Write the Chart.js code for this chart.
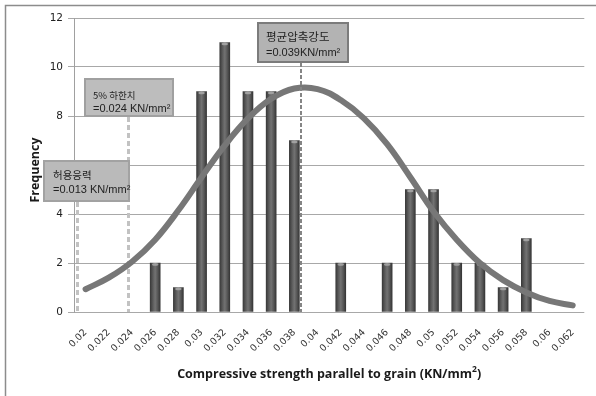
<!DOCTYPE html>
<html>
<head>
<meta charset="utf-8">
<script src="https://cdn.jsdelivr.net/npm/chart.js@4/dist/chart.umd.min.js"></script>
<style>
  html, body { margin: 0; padding: 0; background: #ffffff; }
  #wrap { width: 596px; height: 396px; }
</style>
</head>
<body>
<div id="wrap"><canvas id="chart" width="596" height="396"></canvas></div>
<script>
// Strength classes (KN/mm²) on the category axis
const categories = ['0.02', '0.022', '0.024', '0.026', '0.028', '0.03', '0.032', '0.034',
  '0.036', '0.038', '0.04', '0.042', '0.044', '0.046', '0.048', '0.05', '0.052',
  '0.054', '0.056', '0.058', '0.06', '0.062'];

// Number of specimens in each class
const frequency = [0, 0, 0, 2, 1, 9, 11, 9, 9, 7, 0, 2, 0, 2, 5, 5, 2, 2, 1, 3, 0, 0];

// Fitted distribution curve, sampled at each class
const fittedCurve = [0.93, 1.4, 2.05, 2.95, 4.15, 5.5, 6.8, 7.9, 8.7, 9.12, 9.1, 8.65,
  7.9, 6.85, 5.5, 4.1, 2.95, 2.0, 1.3, 0.8, 0.45, 0.27];

// Frequency axis ticks
const yTicks = [0, 2, 4, 6, 8, 10, 12];

// Reference values shown as callouts
const callouts = [
  { title: '평균압축강도', value: '=0.039KN/mm²' },
  { title: '5% 하한치', value: '=0.024 KN/mm²' },
  { title: '허용응력', value: '=0.013 KN/mm²' }
];

const AXIS_TITLE_X = 'Compressive strength parallel to grain (KN/mm';
const AXIS_TITLE_Y = 'Frequency';
const TITLE_FONT = '"Open Sans", sans-serif';

// Cylinder-like shading for each column
function barFill(ctx) {
  const chart = ctx.chart;
  const xs = chart.scales && chart.scales.x;
  if (ctx.type !== 'data' || !xs || !isFinite(xs.getPixelForValue(ctx.dataIndex))) return '#5a5a5a';
  const cx = xs.getPixelForValue(ctx.dataIndex);
  const g = chart.ctx.createLinearGradient(cx - 5, 0, cx + 5, 0);
  g.addColorStop(0, '#3a3a3a');
  g.addColorStop(0.3, '#5e5e5e');
  g.addColorStop(0.5, '#727272');
  g.addColorStop(0.75, '#575757');
  g.addColorStop(1, '#363636');
  return g;
}

// Frame, guides, callout boxes and axis titles
const decorations = {
  id: 'decorations',
  beforeDraw(chart) {
    const c = chart.ctx;
    c.save();
    c.strokeStyle = '#8c8c8c';
    c.lineWidth = 1.5;
    c.strokeRect(5.5, 5.5, 700, 500);
    c.restore();
  },
  beforeDatasetsDraw(chart) {
    const c = chart.ctx;
    const xs = chart.scales.x, ys = chart.scales.y;
    const base = ys.getPixelForValue(0);
    const line = (x, y0, color, w, dash) => {
      c.save();
      c.strokeStyle = color;
      c.lineWidth = w;
      c.setLineDash(dash);
      c.beginPath();
      c.moveTo(x, y0);
      c.lineTo(x, base);
      c.stroke();
      c.restore();
    };
    line(Math.round(xs.getPixelForValue(-0.35)) + 0.5, 202, '#c2c2c2', 3, [5, 3]);
    line(Math.round(xs.getPixelForValue(1.83)) + 0.5, 117, '#c2c2c2', 3, [5, 3]);
  },
  afterDatasetDraw(chart, args) {
    if (args.index !== 1) return;
    // light cap at the top of each column
    const c = chart.ctx;
    const meta = chart.getDatasetMeta(1);
    c.save();
    meta.data.forEach((bar, i) => {
      if (!frequency[i]) return;
      c.fillStyle = 'rgba(170,170,170,0.85)';
      c.beginPath();
      c.ellipse(bar.x, bar.y + 1.5, 3.2, 1.3, 0, 0, Math.PI * 2);
      c.fill();
    });
    c.restore();
  },
  afterDatasetsDraw(chart) {
    const c = chart.ctx;
    const xs = chart.scales.x, ys = chart.scales.y;
    const base = ys.getPixelForValue(0);
    // mean value guide
    c.save();
    c.strokeStyle = '#858585';
    c.lineWidth = 2;
    c.setLineDash([4, 2]);
    const mx = Math.round(xs.getPixelForValue(9.3));
    c.beginPath();
    c.moveTo(mx, 63);
    c.lineTo(mx, base);
    c.stroke();
    c.restore();

    const boxes = [
      { x: 257, y: 22, w: 92, h: 41, fill: '#b3b3b3', edge: '#7c7c7c', tf: 11.5, t1: 37, t2: 53, tx: 266 },
      { x: 84, y: 78, w: 90, h: 39, fill: '#bdbdbd', edge: '#a0a0a0', tf: 9.5, t1: 95, t2: 109, tx: 93 },
      { x: 43, y: 160, w: 87, h: 42, fill: '#bababa', edge: '#a2a2a2', tf: 10.5, t1: 175, t2: 190, tx: 53 }
    ];
    boxes.forEach((b, i) => {
      c.save();
      c.fillStyle = b.fill;
      c.fillRect(b.x, b.y, b.w, b.h);
      c.strokeStyle = b.edge;
      c.lineWidth = 2;
      c.strokeRect(b.x + 1, b.y + 1, b.w - 2, b.h - 2);
      c.fillStyle = '#222222';
      c.textBaseline = 'middle';
      c.textAlign = 'left';
      c.font = b.tf + 'px "Noto Sans CJK KR", sans-serif';
      c.fillText(callouts[i].title, b.tx, b.t1);
      c.font = '11px "Liberation Sans", Arial, sans-serif';
      c.fillText(callouts[i].value, b.tx, b.t2);
      c.restore();
    });
  },
  afterDraw(chart) {
    const c = chart.ctx;
    const area = chart.chartArea;
    c.save();
    c.fillStyle = '#1a1a1a';
    c.textBaseline = 'middle';
    // horizontal axis title with superscript
    const big = 'bold 12.5px ' + TITLE_FONT;
    const small = 'bold 8.5px ' + TITLE_FONT;
    c.font = big;
    const mainW = c.measureText(AXIS_TITLE_X).width;
    c.font = small;
    const supW = c.measureText('2').width;
    c.font = big;
    const closeW = c.measureText(')').width;
    const total = mainW + supW + closeW;
    let x = (area.left + area.right) / 2 - total / 2;
    const y = 374;
    c.textAlign = 'left';
    c.fillText(AXIS_TITLE_X, x, y);
    x += mainW;
    c.font = small;
    c.fillText('2', x, y - 4);
    x += supW;
    c.font = big;
    c.fillText(')', x, y);
    // vertical axis title
    c.translate(35, 170);
    c.rotate(-Math.PI / 2);
    c.textAlign = 'center';
    c.font = 'bold 12.5px ' + TITLE_FONT;
    c.fillText(AXIS_TITLE_Y, 0, 0);
    c.restore();
  }
};

new Chart(document.getElementById('chart'), {
  data: {
    labels: categories,
    datasets: [
      {
        type: 'line',
        data: fittedCurve,
        borderColor: '#777777',
        borderWidth: 6,
        borderCapStyle: 'round',
        borderJoinStyle: 'round',
        tension: 0.4,
        pointRadius: 0,
        fill: false,
        order: 0
      },
      {
        type: 'bar',
        // empty classes draw no column
        data: frequency.map(v => (v === 0 ? null : v)),
        backgroundColor: barFill,
        borderWidth: 0,
        barThickness: 10,
        order: 1
      }
    ]
  },
  options: {
    responsive: false,
    devicePixelRatio: 1,
    animation: false,
    layout: { padding: { top: 18, right: 10, left: 0, bottom: 0 } },
    plugins: { legend: { display: false }, tooltip: { enabled: false } },
    scales: {
      x: {
        type: 'category',
        offset: true,
        grid: { display: false, drawTicks: false },
        border: { display: false },
        ticks: {
          minRotation: 45,
          maxRotation: 45,
          autoSkip: false,
          padding: 15,
          color: '#333333',
          font: { family: '"DejaVu Sans", sans-serif', size: 9.5 }
        },
        afterFit(scale) { scale.height = 84; }
      },
      y: {
        min: 0,
        max: 12,
        afterBuildTicks(scale) { scale.ticks = yTicks.map(v => ({ value: v })); },
        grid: { color: '#a8a8a8', lineWidth: 1, tickLength: 6 },
        border: { display: true, color: '#a0a0a0', width: 1 },
        ticks: {
          padding: 5,
          color: '#222222',
          font: { family: '"DejaVu Sans", sans-serif', size: 10.5 }
        },
        afterFit(scale) { scale.width = 74; }
      }
    }
  },
  plugins: [decorations]
});
</script>
</body>
</html>
